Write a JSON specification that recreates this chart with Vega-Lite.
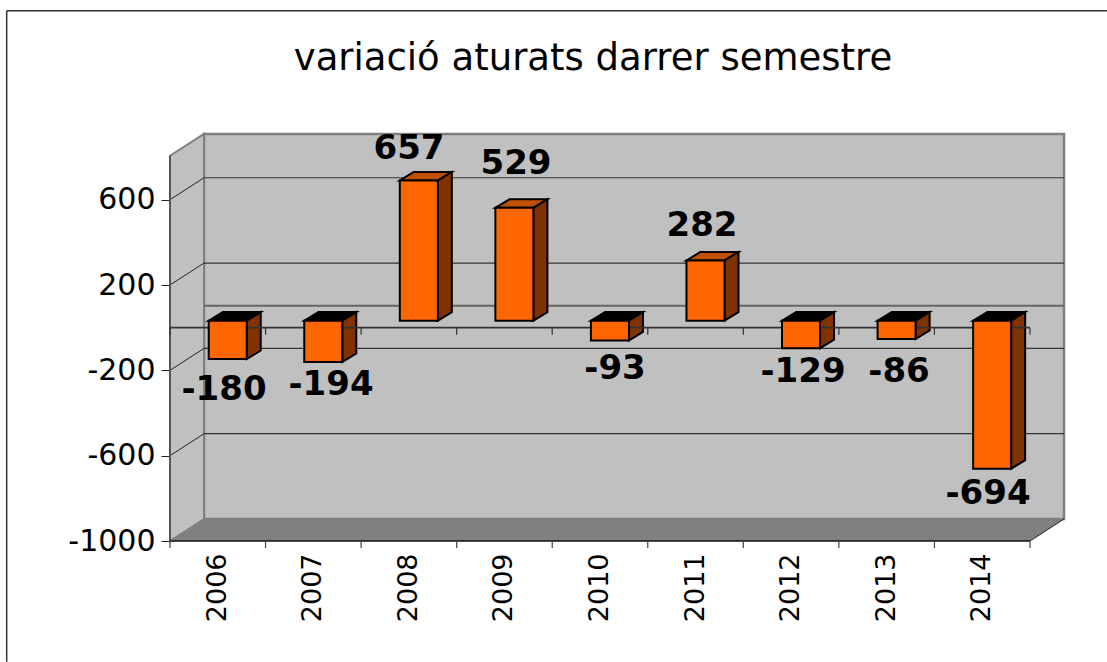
{
"$schema":"https://vega.github.io/schema/vega-lite/v6.json",
"width":894,"height":407,
"autosize":{"type":"none"},
"padding":{"left":170,"top":134,"right":43,"bottom":121},
"background":"white",
"title":{"text":"variació aturats darrer semestre","font":"DejaVu Sans","fontSize":37,"fontWeight":"normal","color":"#000000","anchor":"middle","dx":-24,"offset":-97,"baseline":"alphabetic"},
"config":{"view":{"stroke":null}},
"data":{"values":[{"one":1}]},
"transform":[
 {"calculate":"0.356","as":"wx0"},{"calculate":"9.356","as":"wx1"},{"calculate":"-897","as":"wy0"},{"calculate":"908","as":"wy1"},{"calculate":"103","as":"by"},
 {"calculate":"0","as":"x0f"},{"calculate":"9","as":"x9f"},{"calculate":"-1000","as":"ybot"},{"calculate":"0","as":"yzero"},{"calculate":"806","as":"ytop"},
 {"calculate":"-1.709","as":"bl"},{"calculate":"9.806","as":"br"},{"calculate":"1486","as":"bt"},{"calculate":"-1566","as":"bb"}
],
"datasets":{
 "bars":[{"year":2006,"value":-180},{"year":2007,"value":-194},{"year":2008,"value":657},{"year":2009,"value":529},{"year":2010,"value":-93},{"year":2011,"value":282},{"year":2012,"value":-129},{"year":2013,"value":-86},{"year":2014,"value":-694}],
 "grid":[{"g":-600},{"g":-200},{"g":200},{"g":600}],
 "ticks":[{"t":0},{"t":1},{"t":2},{"t":3},{"t":4},{"t":5},{"t":6},{"t":7},{"t":8},{"t":9}],
 "depth":[{"k":0},{"k":1}]
},
"layer":[
 {"mark":{"type":"rect","fill":"#c0c0c0","stroke":"#808080","strokeWidth":2.5},
  "encoding":{
   "x":{"field":"wx0","type":"quantitative","scale":{"domain":[0,9.356],"nice":false,"zero":false},"title":null,
     "axis":{"values":[0.495,1.495,2.495,3.495,4.495,5.495,6.495,7.495,8.495],"labelExpr":"''+(2006+floor(datum.value))","labelAngle":-90,"labelFont":"DejaVu Sans","labelFontSize":27,"labelColor":"#000000","labelPadding":12,"ticks":false,"domain":false,"grid":false,"labelOverlap":false,"labelFlush":false,"labelBound":false}},
   "x2":{"field":"wx1"},
   "y":{"field":"wy0","type":"quantitative","scale":{"domain":[-1000,908],"nice":false,"zero":false},"title":null,
     "axis":{"values":[600,200,-200,-600,-1000],"labelExpr":"''+datum.value","labelFont":"DejaVu Sans","labelFontSize":30,"labelColor":"#000000","labelPadding":6,"tickSize":9,"tickColor":"#222222","tickWidth":1,"domain":false,"grid":false,"labelOverlap":false,"labelFlush":false,"labelBound":false}},
   "y2":{"field":"wy1"}}},
 {"data":{"name":"depth"},
  "transform":[{"calculate":"datum.k*0.356","as":"wx"},{"calculate":"806+datum.k*103","as":"wy"},{"calculate":"-1000+datum.k*103","as":"wy2"}],
  "mark":{"type":"area","fill":"#c0c0c0","stroke":"#808080","strokeWidth":2},
  "encoding":{"x":{"field":"wx","type":"quantitative"},"y":{"field":"wy","type":"quantitative"},"y2":{"field":"wy2"}}},
 {"data":{"name":"depth"},
  "transform":[{"calculate":"datum.k*0.356","as":"fx"},{"calculate":"9+datum.k*0.356","as":"fx2"},{"calculate":"-1000+datum.k*103","as":"fy"}],
  "mark":{"type":"area","orient":"horizontal","fill":"#808080"},
  "encoding":{"x":{"field":"fx","type":"quantitative"},"x2":{"field":"fx2"},"y":{"field":"fy","type":"quantitative"}}},
 {"data":{"name":"grid"},
  "transform":[{"calculate":"datum.g+103","as":"gy"},{"calculate":"0.356","as":"a"},{"calculate":"9.356","as":"b"}],
  "mark":{"type":"rule","color":"#333333","strokeWidth":1.2},
  "encoding":{"x":{"field":"a","type":"quantitative"},"x2":{"field":"b"},"y":{"field":"gy","type":"quantitative"}}},
 {"mark":{"type":"rule","color":"#666666","strokeWidth":2},
  "encoding":{"x":{"field":"wx0","type":"quantitative"},"x2":{"field":"wx1"},"y":{"field":"by","type":"quantitative"}}},
 {"data":{"name":"grid"},
  "transform":[{"calculate":"[0,1]","as":"k"},{"flatten":["k"]},{"calculate":"datum.k*0.356","as":"dx"},{"calculate":"datum.g+datum.k*103","as":"dy"}],
  "mark":{"type":"line","color":"#222222","strokeWidth":1},
  "encoding":{"x":{"field":"dx","type":"quantitative"},"y":{"field":"dy","type":"quantitative"},"detail":{"field":"g"}}},
 {"data":{"name":"depth"},
  "transform":[{"calculate":"9+datum.k*0.356","as":"dx"},{"calculate":"-1000+datum.k*103","as":"dy"}],
  "mark":{"type":"line","color":"#222222","strokeWidth":1},
  "encoding":{"x":{"field":"dx","type":"quantitative"},"y":{"field":"dy","type":"quantitative"}}},
 {"mark":{"type":"rule","color":"#555555","strokeWidth":2},
  "encoding":{"x":{"field":"x0f","type":"quantitative"},"y":{"field":"ybot","type":"quantitative"},"y2":{"field":"ytop"}}},
 {"mark":{"type":"rule","color":"#111111","strokeWidth":1.5},
  "encoding":{"x":{"field":"x0f","type":"quantitative"},"x2":{"field":"x9f"},"y":{"field":"ybot","type":"quantitative"}}},
 {"data":{"name":"ticks"},
  "transform":[{"calculate":"-1000","as":"a"},{"calculate":"-1033","as":"b"}],
  "mark":{"type":"rule","color":"#444444","strokeWidth":1.2},
  "encoding":{"x":{"field":"t","type":"quantitative"},"y":{"field":"a","type":"quantitative"},"y2":{"field":"b"}}},
 {"data":{"name":"bars"},
  "transform":[{"calculate":"[0,1]","as":"k"},{"flatten":["k"]},{"calculate":"datum.year-2006+0.405+datum.k*0.1465","as":"tx"},{"calculate":"datum.year-2006+0.803+datum.k*0.1465","as":"tx2"},{"calculate":"max(datum.value,0)+33+datum.k*40","as":"ty"}],
  "mark":{"type":"area","orient":"horizontal","stroke":"#000000","strokeWidth":2,"strokeJoin":"miter"},
  "encoding":{"x":{"field":"tx","type":"quantitative"},"x2":{"field":"tx2"},"y":{"field":"ty","type":"quantitative"},"detail":{"field":"year"},
   "color":{"condition":{"test":"datum.value>0","value":"#c05000"},"value":"#000000"}}},
 {"data":{"name":"bars"},
  "transform":[{"calculate":"[0,1]","as":"k"},{"flatten":["k"]},{"calculate":"datum.year-2006+0.803+datum.k*0.1465","as":"sx"},{"calculate":"max(datum.value,0)+33+datum.k*40","as":"sy"},{"calculate":"min(datum.value,0)+33+datum.k*40","as":"sy2"}],
  "mark":{"type":"area","fill":"#803300","stroke":"#000000","strokeWidth":2,"strokeJoin":"miter"},
  "encoding":{"x":{"field":"sx","type":"quantitative"},"y":{"field":"sy","type":"quantitative"},"y2":{"field":"sy2"},"detail":{"field":"year"}}},
 {"mark":{"type":"rule","color":"#333333","strokeWidth":1.8},
  "encoding":{"x":{"field":"x0f","type":"quantitative"},"x2":{"field":"x9f"},"y":{"field":"yzero","type":"quantitative"}}},
 {"data":{"name":"ticks"},
  "transform":[{"calculate":"0","as":"a"},{"calculate":"-33","as":"b"}],
  "mark":{"type":"rule","color":"#333333","strokeWidth":1.2},
  "encoding":{"x":{"field":"t","type":"quantitative"},"y":{"field":"a","type":"quantitative"},"y2":{"field":"b"}}},
 {"data":{"name":"bars"},
  "transform":[{"calculate":"datum.year-2006+0.405","as":"x0"},{"calculate":"datum.year-2006+0.803","as":"x1"},{"calculate":"max(datum.value,0)+33","as":"top"},{"calculate":"min(datum.value,0)+33","as":"bot"}],
  "mark":{"type":"rect","fill":"#ff6600","stroke":"#000000","strokeWidth":2,"strokeJoin":"miter"},
  "encoding":{"x":{"field":"x0","type":"quantitative"},"x2":{"field":"x1"},"y":{"field":"top","type":"quantitative"},"y2":{"field":"bot"}}},
 {"data":{"name":"bars"},
  "transform":[{"calculate":"datum.year-2006","as":"i"},{"calculate":"(([224,331,409,516,615,702,803,899,988])[datum.i]-170)/95.55","as":"lx"},{"calculate":"([-291,-268,838,768,-193,478,-207,-207,-778])[datum.i]","as":"ly"},{"calculate":"''+datum.value","as":"lbl"}],
  "mark":{"type":"text","font":"DejaVu Sans","fontSize":34,"fontWeight":"bold","color":"#000000","align":"center","baseline":"middle"},
  "encoding":{"x":{"field":"lx","type":"quantitative"},"y":{"field":"ly","type":"quantitative"},"text":{"field":"lbl","type":"nominal"}}},
 {"mark":{"type":"rule","color":"#333333","strokeWidth":1.5},
  "encoding":{"x":{"field":"bl","type":"quantitative"},"x2":{"field":"br"},"y":{"field":"bt","type":"quantitative"}}},
 {"mark":{"type":"rule","color":"#333333","strokeWidth":1.5},
  "encoding":{"x":{"field":"bl","type":"quantitative"},"y":{"field":"bt","type":"quantitative"},"y2":{"field":"bb"}}}
]
}
